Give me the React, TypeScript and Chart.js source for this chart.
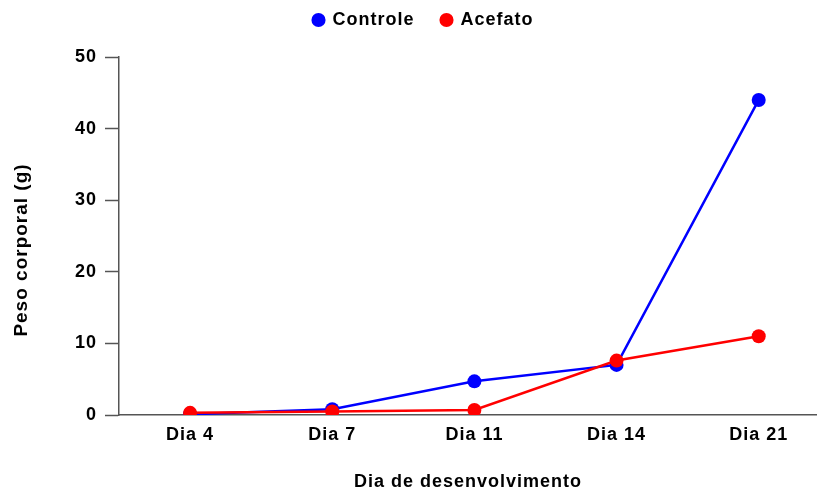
import React, { useEffect, useRef } from "react";
import { Chart, registerables } from "chart.js";

Chart.register(...registerables);

const categories = ["Dia 4", "Dia 7", "Dia 11", "Dia 14", "Dia 21"];
const controle = [0.1, 0.8, 4.7, 7.0, 44.0];
const acefato = [0.3, 0.5, 0.7, 7.6, 11.0];
const yTicks = [0, 10, 20, 30, 40, 50];

const FONT = "'Liberation Sans', Arial, sans-serif";

const spacingPlugin = {
  id: "letterSpacing",
  beforeUpdate: (chart: any) => {
    chart.ctx.letterSpacing = "1px";
  },
  beforeLayout: (chart: any) => {
    chart.ctx.letterSpacing = "1px";
    const lg = chart.legend;
    if (lg && !lg.__patched) {
      lg.__patched = true;
      const origFit = lg.fit.bind(lg);
      lg.fit = function () {
        origFit();
        this.height += 18;
      };
    }
  },
  afterLayout: (chart: any) => {
    if (chart.legend) chart.legend.left += 30;
    const y = chart.scales.y;
    if (y && !y.__patched) {
      y.__patched = true;
      const origDrawTitle = y.drawTitle.bind(y);
      // nudge the rotated axis title downwards, as in the reference
      y.drawTitle = function (...args: any[]) {
        this.top += 14;
        this.bottom += 14;
        origDrawTitle(...args);
        this.top -= 14;
        this.bottom -= 14;
      };
    }
  },
  beforeDraw: (chart: any) => {
    chart.ctx.letterSpacing = "1px";
  },
};

export default function App() {
  const ref = useRef<HTMLCanvasElement | null>(null);
  useEffect(() => {
    document.body.style.margin = "0";
    const ctx = ref.current!.getContext("2d")!;
    const chart = new Chart(ctx, {
      type: "line",
      plugins: [spacingPlugin],
      data: {
        datasets: [
          {
            label: "Controle",
            data: controle.map((v, i) => ({ x: i, y: v })),
            borderColor: "#0000ff",
            backgroundColor: "#0000ff",
            pointBackgroundColor: "#0000ff",
            pointBorderColor: "#0000ff",
            borderWidth: 2.5,
            pointRadius: 7,
            pointBorderWidth: 0,
            order: 2,
          },
          {
            label: "Acefato",
            data: acefato.map((v, i) => ({ x: i, y: v })),
            borderColor: "#ff0000",
            backgroundColor: "#ff0000",
            pointBackgroundColor: "#ff0000",
            pointBorderColor: "#ff0000",
            borderWidth: 2.5,
            pointRadius: 7,
            pointBorderWidth: 0,
            order: 1,
          },
        ],
      },
      options: {
        animation: false,
        responsive: false,
        layout: { autoPadding: false, padding: { top: -16, right: 0, left: 0, bottom: 0 } },
        plugins: {
          tooltip: { enabled: false },
          legend: {
            position: "top",
            reverse: true,
            labels: {
              usePointStyle: true,
              pointStyle: "circle",
              boxWidth: 10,
              boxHeight: 10,
              color: "#000",
              font: { family: FONT, size: 18, weight: "bold" },
              padding: 27,
            },
          },
        },
        scales: {
          x: {
            type: "linear",
            min: -0.5,
            max: 4.41,
            afterBuildTicks: (scale: any) => {
              scale.ticks = categories.map((_, i) => ({ value: i }));
            },
            afterFit: (scale: any) => {
              scale.height = 78;
              scale.paddingLeft = 0;
              scale.paddingRight = 0;
            },
            ticks: {
              callback: (v: any) => categories[v as number] ?? "",
              color: "#000",
              font: { family: FONT, size: 18, weight: "bold" },
              padding: 9,
              autoSkip: false,
              maxRotation: 0,
            },
            grid: { display: true, drawOnChartArea: false, drawTicks: false, color: "#555" },
            border: { display: true, color: "#555", width: 1.5 },
            title: {
              display: true,
              text: "Dia de desenvolvimento",
              color: "#000",
              font: { family: FONT, size: 18, weight: "bold" },
              padding: { top: 20, bottom: 0 },
            },
          },
          y: {
            min: 0,
            max: 50,
            afterBuildTicks: (scale: any) => {
              scale.ticks = yTicks.map((v) => ({ value: v }));
            },
            afterFit: (scale: any) => {
              scale.width = 119;
            },
            ticks: {
              color: "#000",
              font: { family: FONT, size: 18, weight: "bold" },
              padding: 8,
            },
            grid: { display: true, drawOnChartArea: false, drawTicks: true, tickLength: 14, color: "#555", tickWidth: 1.5 },
            border: { display: true, color: "#555", width: 1.5 },
            title: {
              display: true,
              text: "Peso corporal (g)",
              color: "#000",
              font: { family: FONT, size: 19, weight: "bold" },
              padding: { top: 10, bottom: 10 },
            },
          },
        },
      },
    });
    return () => chart.destroy();
  }, []);
  return (
    <div style={{ position: "fixed", left: 0, top: 0, width: 817, height: 493 }}>
      <canvas ref={ref} width={817} height={493} style={{ width: 817, height: 493 }} />
    </div>
  );
}
